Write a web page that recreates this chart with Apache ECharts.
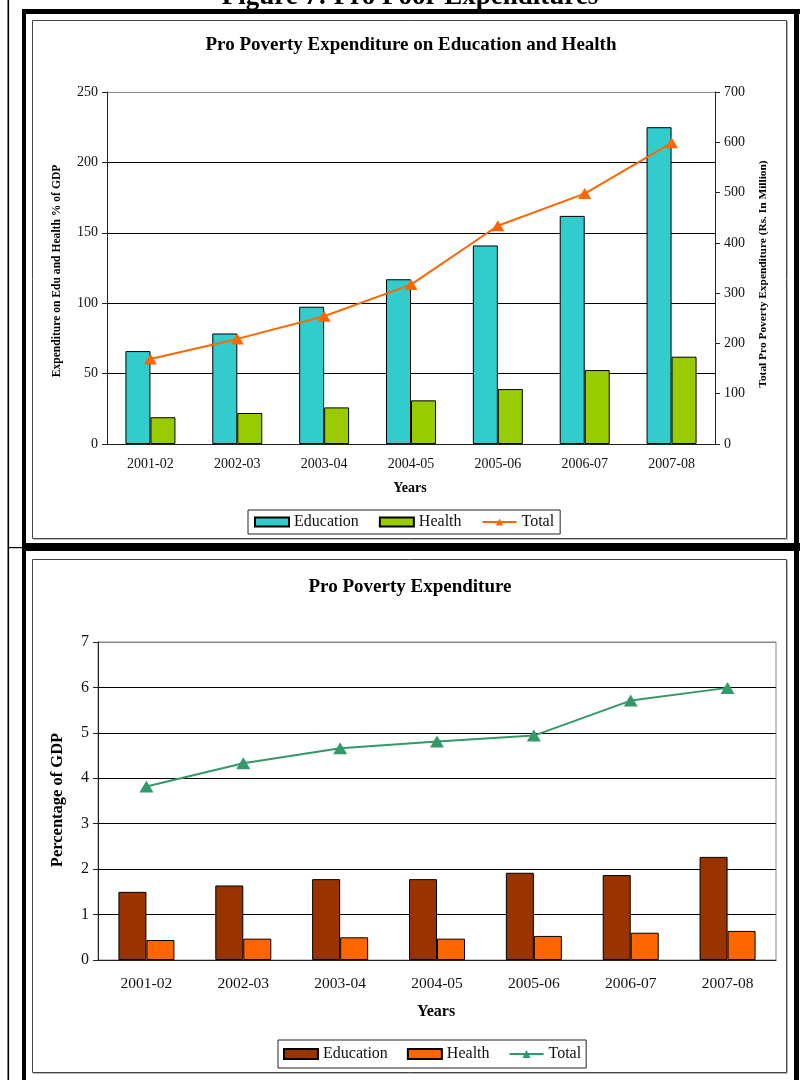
<!DOCTYPE html>
<html>
<head>
<meta charset="utf-8">
<script src="https://cdn.jsdelivr.net/npm/echarts/dist/echarts.min.js"></script>
<style>
html,body{margin:0;padding:0;background:#fff;}
#a,#b{position:absolute;left:0;top:0;width:800px;height:1080px;}
</style>
</head>
<body>
<div id="a"></div>
<div id="b"></div>
<script>
// ---- data ----
const years = ['2001-02', '2002-03', '2003-04', '2004-05', '2005-06', '2006-07', '2007-08'];
// Chart 1: Pro Poverty Expenditure on Education and Health
const eduSpend = [66, 78.5, 97.5, 117, 141, 162, 225];
const healthSpend = [19, 22, 26, 31, 39, 52.5, 62];
const totalSpend = [169, 209, 254, 317, 434, 498, 599];
const leftTicks1 = [0, 250, 50];   // min, max, interval
const rightTicks1 = [0, 700, 100];
// Chart 2: Pro Poverty Expenditure (% of GDP)
const eduPct = [1.5, 1.64, 1.78, 1.78, 1.92, 1.87, 2.27];
const healthPct = [0.44, 0.47, 0.5, 0.47, 0.53, 0.6, 0.64];
const totalPct = [3.82, 4.33, 4.66, 4.81, 4.94, 5.71, 5.99];
const yTicks2 = [0, 7, 1];
const seriesNames = ['Education', 'Health', 'Total'];

const FONT = 'Liberation Serif';
const INK = '#111';

function frameGraphics() {
  return [
    {type:'rect', shape:{x:7.5, y:0, width:1.6, height:1080}, style:{fill:'#000'}},
    {type:'rect', shape:{x:8, y:547, width:15, height:1.2}, style:{fill:'#000'}},
    {type:'rect', shape:{x:22, y:9, width:778, height:5}, style:{fill:'#000'}},
    {type:'rect', shape:{x:22, y:9, width:4, height:1071}, style:{fill:'#000'}},
    {type:'rect', shape:{x:794, y:9, width:5, height:1071}, style:{fill:'#000'}},
    {type:'rect', shape:{x:22, y:543, width:778, height:8}, style:{fill:'#000'}},
    {type:'rect', shape:{x:33.5, y:21.5, width:754, height:518}, style:{fill:'none', stroke:'#bbb', lineWidth:1}},
    {type:'rect', shape:{x:32.5, y:20.5, width:754, height:518}, style:{fill:'#fff', stroke:'#444', lineWidth:1}},
    {type:'rect', shape:{x:33.5, y:560.5, width:754, height:513}, style:{fill:'none', stroke:'#bbb', lineWidth:1}},
    {type:'rect', shape:{x:32.5, y:559.5, width:754, height:513}, style:{fill:'#fff', stroke:'#444', lineWidth:1}},
    {type:'text', x:410, y:-3, style:{text:'Figure 7: Pro Poor Expenditures', font:'bold 27px "Liberation Serif"', fill:'#000', align:'center', verticalAlign:'middle'}}
  ];
}

function legendData() {
  return [
    {name: seriesNames[0], icon: 'rect'},
    {name: seriesNames[1], icon: 'rect'},
    {name: seriesNames[2]}
  ];
}

// ---------- Chart A ----------
const chartA = echarts.init(document.getElementById('a'));
chartA.setOption({
  backgroundColor: '#fff',
  animation: false,
  graphic: frameGraphics().concat([
    {type:'text', x:411, y:45, z:10, style:{text:'Pro Poverty Expenditure on Education and Health', font:'bold 19px "Liberation Serif"', fill:'#000', align:'center', verticalAlign:'middle'}},
    {type:'text', x:410, y:488, z:10, style:{text:'Years', font:'bold 14px "Liberation Serif"', fill:'#000', align:'center', verticalAlign:'middle'}},
    {type:'text', x:57, y:271, rotation:Math.PI/2, z:10, style:{text:'Expenditure on Edu and Health % of GDP', font:'bold 11.6px "Liberation Serif"', fill:'#000', align:'center', verticalAlign:'middle'}},
    {type:'text', x:763, y:274, rotation:Math.PI/2, z:10, style:{text:'Total Pro Poverty Expenditure (Rs. In Million)', font:'bold 11.4px "Liberation Serif"', fill:'#000', align:'center', verticalAlign:'middle'}}
  ]),
  legend: {
    left: 248, top: 510,
    padding: [4, 6], itemGap: 20, itemWidth: 34, itemHeight: 9,
    borderColor: '#222', borderWidth: 1, backgroundColor: '#fff',
    textStyle: {fontFamily: FONT, fontSize: 16, color: INK},
    data: legendData()
  },
  grid: {left: 107, top: 92, width: 608, height: 352, show: true, borderColor: '#888', borderWidth: 1, backgroundColor:'#fff'},
  xAxis: {
    type: 'category', data: years,
    axisLine: {lineStyle: {color: '#222', width: 1}},
    axisTick: {length: 4, lineStyle: {color: '#222'}},
    axisLabel: {fontFamily: FONT, fontSize: 14, color: INK, margin: 13}
  },
  yAxis: [
    {
      type: 'value', min: leftTicks1[0], max: leftTicks1[1], interval: leftTicks1[2],
      axisLine: {show: true, lineStyle: {color: '#222'}},
      axisTick: {show: true, length: 5, lineStyle: {color: '#222'}},
      axisLabel: {fontFamily: FONT, fontSize: 14, color: INK, margin: 9},
      splitLine: {lineStyle: {color: ['#000', '#000', '#000', '#000', '#000', '#888'], width: 1}}
    },
    {
      type: 'value', position: 'right', min: rightTicks1[0], max: rightTicks1[1], interval: rightTicks1[2],
      axisLine: {show: true, lineStyle: {color: '#222'}},
      axisTick: {show: true, length: 5, lineStyle: {color: '#222'}},
      axisLabel: {fontFamily: FONT, fontSize: 14, color: INK, margin: 9},
      splitLine: {show: false}
    }
  ],
  series: [
    {name: seriesNames[0], type: 'bar', data: eduSpend, barWidth: 25, barGap: '0%',
     itemStyle: {color: '#33CCCC', borderColor: '#000', borderWidth: 1}},
    {name: seriesNames[1], type: 'bar', data: healthSpend, barWidth: 25, barGap: '0%',
     itemStyle: {color: '#99CC00', borderColor: '#000', borderWidth: 1}},
    {name: seriesNames[2], type: 'line', yAxisIndex: 1, data: totalSpend,
     symbol: 'triangle', symbolSize: [13, 11], showSymbol: true,
     lineStyle: {color: '#FF6600', width: 2}, itemStyle: {color: '#FF6600'}}
  ]
});

// ---------- Chart B ----------
const chartB = echarts.init(document.getElementById('b'));
chartB.setOption({
  backgroundColor: 'transparent',
  animation: false,
  graphic: [
    {type:'text', x:410, y:587, z:10, style:{text:'Pro Poverty Expenditure', font:'bold 19px "Liberation Serif"', fill:'#000', align:'center', verticalAlign:'middle'}},
    {type:'text', x:436, y:1012, z:10, style:{text:'Years', font:'bold 16px "Liberation Serif"', fill:'#000', align:'center', verticalAlign:'middle'}},
    {type:'text', x:58, y:800, rotation:Math.PI/2, z:10, style:{text:'Percentage of GDP', font:'bold 16.5px "Liberation Serif"', fill:'#000', align:'center', verticalAlign:'middle'}}
  ],
  legend: {
    left: 278, top: 1040,
    padding: [6, 5], itemGap: 19, itemWidth: 34, itemHeight: 10,
    borderColor: '#222', borderWidth: 1, backgroundColor: '#fff',
    textStyle: {fontFamily: FONT, fontSize: 16, color: INK},
    data: legendData()
  },
  grid: {left: 98, top: 642, width: 678, height: 318, show: true, borderColor: '#888', borderWidth: 1},
  xAxis: {
    type: 'category', data: years,
    axisLine: {lineStyle: {color: '#222', width: 1}},
    axisTick: {length: 4, lineStyle: {color: '#222'}},
    axisLabel: {fontFamily: FONT, fontSize: 15.5, color: INK, margin: 16}
  },
  yAxis: {
    type: 'value', min: yTicks2[0], max: yTicks2[1], interval: yTicks2[2],
    axisLine: {show: true, lineStyle: {color: '#222'}},
    axisTick: {show: true, length: 5, lineStyle: {color: '#222'}},
    axisLabel: {fontFamily: FONT, fontSize: 16, color: INK, margin: 9},
    splitLine: {lineStyle: {color: ['#000', '#000', '#000', '#000', '#000', '#000', '#000', '#888'], width: 1}}
  },
  series: [
    {name: seriesNames[0], type: 'bar', data: eduPct, barWidth: 28, barGap: '0%',
     itemStyle: {color: '#993300', borderColor: '#000', borderWidth: 1}},
    {name: seriesNames[1], type: 'bar', data: healthPct, barWidth: 28, barGap: '0%',
     itemStyle: {color: '#FF6600', borderColor: '#000', borderWidth: 1}},
    {name: seriesNames[2], type: 'line', data: totalPct,
     symbol: 'triangle', symbolSize: [14, 12], showSymbol: true,
     lineStyle: {color: '#339966', width: 2}, itemStyle: {color: '#339966'}}
  ]
});
</script>
</body>
</html>
